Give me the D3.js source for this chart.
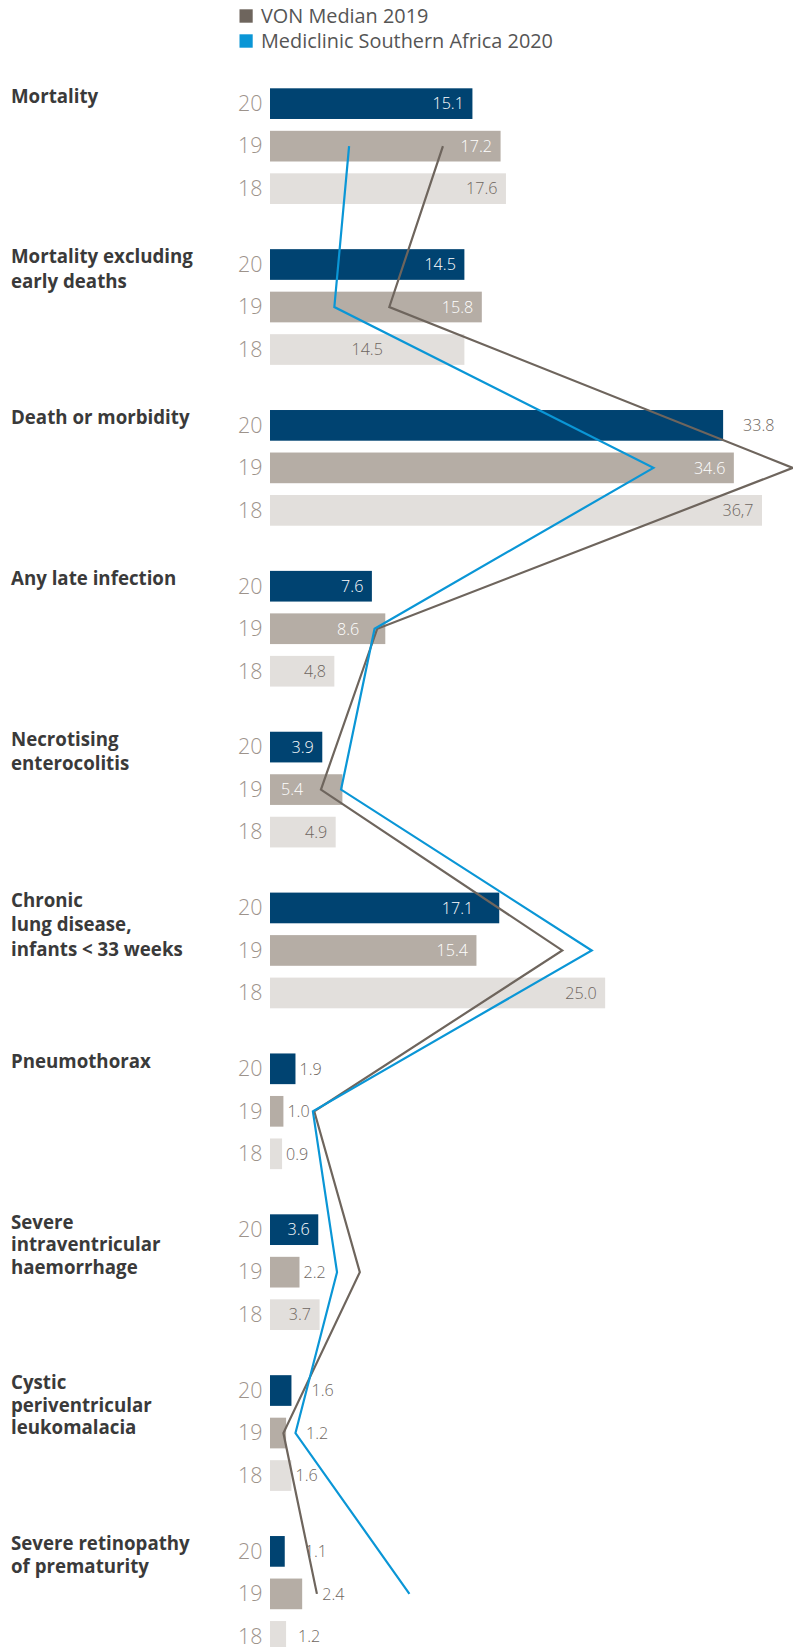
<!DOCTYPE html>
<html>
<head>
<meta charset="utf-8">
<script src="https://cdn.jsdelivr.net/npm/d3@7"></script>
<style>
  html, body { margin: 0; padding: 0; background: #ffffff; }
  svg { display: block; }
</style>
</head>
<body>
<div id="chart"></div>
<script>
// ---------- data ----------
const categories = [
  "Mortality",
  "Mortality excluding\nearly deaths",
  "Death or morbidity",
  "Any late infection",
  "Necrotising\nenterocolitis",
  "Chronic\nlung disease,\ninfants < 33 weeks",
  "Pneumothorax",
  "Severe\nintraventricular\nhaemorrhage",
  "Cystic\nperiventricular\nleukomalacia",
  "Severe retinopathy\nof prematurity"
];
const years = ["20", "19", "18"];
const values20 = [15.1, 14.5, 33.8, 7.6, 3.9, 17.1, 1.9, 3.6, 1.6, 1.1];
const values19 = [17.2, 15.8, 34.6, 8.6, 5.4, 15.4, 1.0, 2.2, 1.2, 2.4];
const values18 = [17.6, 14.5, 36.7, 4.8, 4.9, 25.0, 0.9, 3.7, 1.6, 1.2];
const labels20 = ["15.1", "14.5", "33.8", "7.6", "3.9", "17.1", "1.9", "3.6", "1.6", "1.1"];
const labels19 = ["17.2", "15.8", "34.6", "8.6", "5.4", "15.4", "1.0", "2.2", "1.2", "2.4"];
const labels18 = ["17.6", "14.5", "36,7", "4,8", "4.9", "25.0", "0.9", "3.7", "1.6", "1.2"];
// line series (same units as bars)
const seriesNames = ["VON Median 2019", "Mediclinic Southern Africa 2020"];
const vonMedian2019 = [12.9, 8.9, 39.0, 8.0, 3.8, 21.8, 3.3, 6.7, 1.0, 3.5];
const mediclinic2020 = [5.9, 4.8, 28.6, 7.8, 5.3, 24.0, 3.2, 5.0, 1.9, 10.4];

// ---------- label placement (layout config) ----------
const place20 = ["in", "in", "far", "in", "in", "inw", "out", "in", "far", "far"];
const place19 = ["in", "in", "in", "inw", "start", "in", "out", "out", "far", "far"];
const place18 = ["in", "mid", "in", "in", "in", "in", "out", "in", "out", "mid2"];

// ---------- styles ----------
const W = 793, H = 1647;
const FONT = "'Open Sans', 'Noto Sans', 'DejaVu Sans', sans-serif";
const colBar = { "20": "#004371", "19": "#b5ada5", "18": "#e2dfdc" };
const colLbl = { "20": "#ffffff", "19": "#ffffff", "18": "#6e6660" };
const colOutLbl = "#6e6660";
const colLine = ["#6e655d", "#0a96d6"];

const svg = d3.select("#chart").append("svg")
  .attr("width", W).attr("height", H)
  .attr("viewBox", `0 0 ${W} ${H}`);

// font calibration
function fit(sample, weight, target) {
  const t = svg.append("text").attr("font-family", FONT).attr("font-weight", weight)
    .attr("font-size", 100).text(sample);
  const w = t.node().getComputedTextLength();
  t.remove();
  return 100 * target / w;
}
const fsCat = fit("Mortality excluding", 700, 182);
const fsLegend = fit("Mediclinic Southern Africa 2020", 400, 292);
const fsYear = fit("20", 300, 24.5);
const fsVal = fit("17.6", 300, 31.5);

// ---------- scales ----------
const x = d3.scaleLinear().domain([0, 36.7]).range([270, 762]);
const yGroup = d3.scaleBand().domain(d3.range(categories.length))
  .range([88.3, 88.3 + categories.length * 160.86]).paddingInner(0).paddingOuter(0);
const yInner = d3.scaleBand().domain(years).range([0, 115.7]).paddingInner(0.278).paddingOuter(0);
const bw = yInner.bandwidth();

// ---------- legend ----------
const legend = svg.append("g");
seriesNames.forEach((name, i) => {
  const gy = 9.3 + i * 25;
  legend.append("rect").attr("x", 239.5).attr("y", gy).attr("width", 13.2).attr("height", 13.4)
    .attr("fill", colLine[i]);
  legend.append("text").attr("x", 261).attr("y", gy + 13.4)
    .attr("font-family", FONT).attr("font-size", fsLegend).attr("font-weight", 400)
    .attr("fill", "#555555").text(name);
});

// ---------- rows ----------
const rows = [];
categories.forEach((c, i) => {
  [[values20, labels20, place20], [values19, labels19, place19], [values18, labels18, place18]]
    .forEach(([vals, lbls, pl], k) => {
      rows.push({ cat: i, year: years[k], v: vals[i], label: lbls[i], place: pl[i] });
    });
});

// category labels
const catG = svg.append("g");
categories.forEach((c, i) => {
  const lines = c.split("\n");
  const lh = i < 7 ? 24.5 : 22.5;
  const t = catG.append("text")
    .attr("x", 11)
    .attr("y", yGroup(i) + 14.2)
    .attr("font-family", FONT).attr("font-size", fsCat).attr("font-weight", 700)
    .attr("fill", "#3a3a3a");
  lines.forEach((ln, j) => {
    t.append("tspan").attr("x", 11).attr("dy", j === 0 ? 0 : lh).text(ln);
  });
});

// year labels
svg.append("g").selectAll("text").data(rows).join("text")
  .attr("x", 238)
  .attr("y", d => yGroup(d.cat) + yInner(d.year) + bw / 2)
  .attr("dy", "0.34em")
  .attr("font-family", FONT).attr("font-size", fsYear).attr("font-weight", 300)
  .attr("fill", "#9d938b")
  .text(d => d.year);

// bars
svg.append("g").selectAll("rect").data(rows).join("rect")
  .attr("x", x(0))
  .attr("y", d => yGroup(d.cat) + yInner(d.year))
  .attr("width", d => x(d.v) - x(0))
  .attr("height", bw)
  .attr("fill", d => colBar[d.year]);

// lines
const lineGen = d3.line()
  .x(d => x(d.v))
  .y(d => yGroup(d.cat) + yInner("19") + bw / 2);
[vonMedian2019, mediclinic2020].forEach((vals, s) => {
  svg.append("path")
    .datum(vals.map((v, i) => ({ v, cat: i })))
    .attr("d", lineGen)
    .attr("fill", "none")
    .attr("stroke", colLine[s])
    .attr("stroke-width", 2.2)
    .attr("stroke-linejoin", "miter");
});

// value labels
const inside = p => p === "in" || p === "inw" || p === "mid" || p === "start";
svg.append("g").selectAll("text").data(rows).join("text")
  .attr("x", d => {
    const xe = x(d.v);
    if (d.place === "in") return xe - 8.5;
    if (d.place === "inw") return xe - 26;
    if (d.place === "out") return xe + 4;
    if (d.place === "mid2") return xe + 12;
    if (d.place === "far") return xe + 20;
    if (d.place === "mid") return (x(0) + xe) / 2;
    return x(0) + 11; // start
  })
  .attr("text-anchor", d => (d.place === "in" || d.place === "inw") ? "end" : d.place === "mid" ? "middle" : "start")
  .attr("y", d => yGroup(d.cat) + yInner(d.year) + bw / 2)
  .attr("dy", "0.36em")
  .attr("font-family", FONT).attr("font-size", fsVal).attr("font-weight", 300)
  .attr("fill", d => inside(d.place) ? colLbl[d.year] : colOutLbl)
  .text(d => d.label);
</script>
</body>
</html>
